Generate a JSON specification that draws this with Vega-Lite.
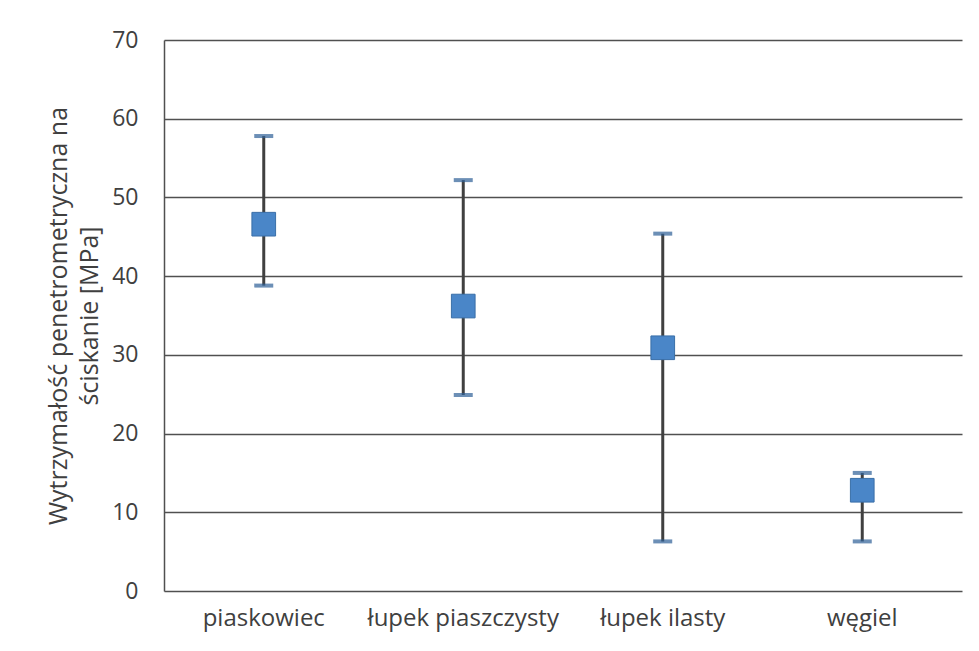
{
  "$schema": "https://vega.github.io/schema/vega-lite/v6.json",
  "width": 798,
  "height": 551,
  "autosize": "none",
  "padding": {"left": 164, "top": 40, "right": 17, "bottom": 60},
  "background": "white",
  "config": {
    "view": {"stroke": null},
    "font": "Open Sans"
  },
  "data": {
    "values": [
      {"rock": "piaskowiec", "mean": 46.6, "min": 38.8, "max": 57.8},
      {"rock": "łupek piaszczysty", "mean": 36.2, "min": 24.9, "max": 52.2},
      {"rock": "łupek ilasty", "mean": 30.9, "min": 6.3, "max": 45.4},
      {"rock": "węgiel", "mean": 12.8, "min": 6.3, "max": 15.0}
    ]
  },
  "encoding": {
    "x": {
      "field": "rock", "type": "nominal", "sort": null,
      "scale": {"paddingInner": 0, "paddingOuter": 0},
      "axis": {
        "title": null, "labelAngle": 0, "ticks": false, "domain": false,
        "labelFontSize": 24, "labelColor": "#404040", "labelPadding": 15,
        "labelFont": "Open Sans", "labelLimit": 0
      }
    }
  },
  "layer": [
    {
      "mark": {"type": "rule", "color": "#404040", "strokeWidth": 3},
      "encoding": {
        "y": {
          "field": "min", "type": "quantitative",
          "scale": {"domain": [0, 70], "nice": false},
          "axis": {
            "values": [0, 10, 20, 30, 40, 50, 60, 70],
            "title": ["Wytrzymałość penetrometryczna na", "ściskanie [MPa]"],
            "titleFontSize": 25, "titleFontWeight": "normal", "titleColor": "#404040",
            "titleFont": "Open Sans", "titlePadding": 9, "titleLineHeight": 31,
            "labelFontSize": 23, "labelColor": "#404040", "labelPadding": 26,
            "ticks": false, "domain": true, "domainColor": "#505050", "domainWidth": 1.5,
            "grid": true, "gridColor": "#505050", "gridWidth": 1.5
          }
        },
        "y2": {"field": "max"}
      }
    },
    {
      "mark": {"type": "tick", "color": "#2e5f97", "size": 19, "thickness": 4},
      "encoding": {"y": {"field": "min", "type": "quantitative"}}
    },
    {
      "mark": {"type": "tick", "color": "#2e5f97", "size": 19, "thickness": 4},
      "encoding": {"y": {"field": "max", "type": "quantitative"}}
    },
    {
      "mark": {"type": "point", "shape": "square", "filled": true, "size": 560, "color": "#4a86c8", "stroke": "#3a6fa8", "strokeWidth": 1, "opacity": 1},
      "encoding": {"y": {"field": "mean", "type": "quantitative"}}
    }
  ]
}
